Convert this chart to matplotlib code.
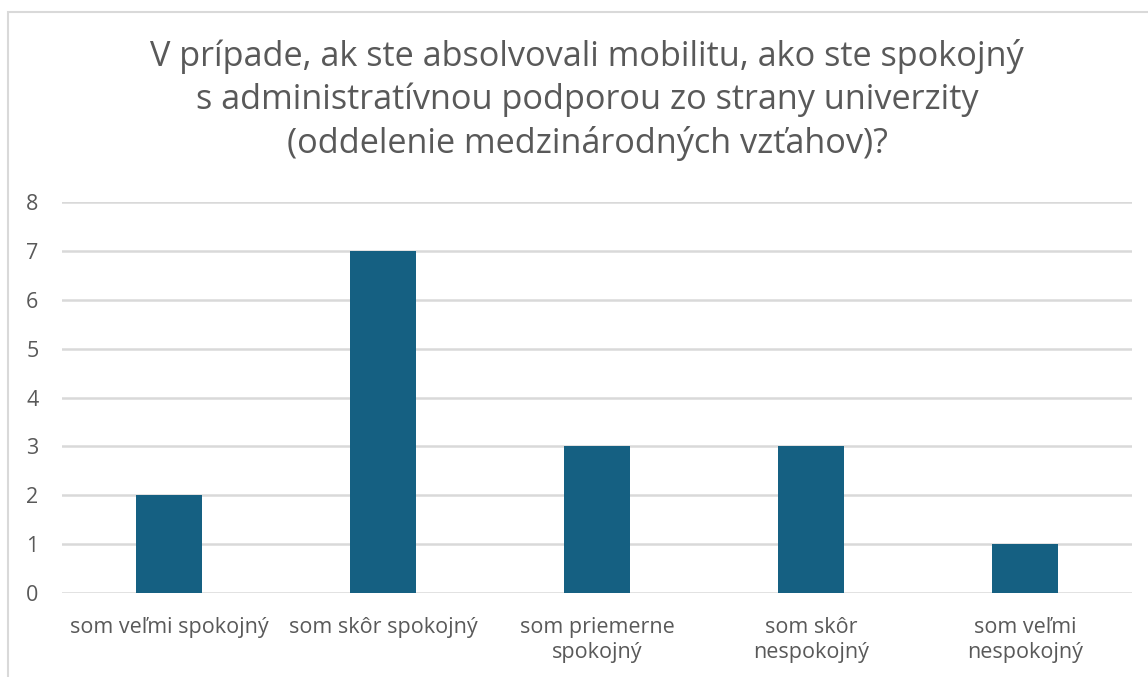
import matplotlib
matplotlib.use("Agg")
import matplotlib.pyplot as plt
from matplotlib.patches import Rectangle

# data
categories = ["som veľmi spokojný", "som skôr spokojný", "som priemerne\nspokojný",
              "som skôr\nnespokojný", "som veľmi\nnespokojný"]
counts = [2, 7, 3, 3, 1]
y_ticks = [0, 1, 2, 3, 4, 5, 6, 7, 8]
title = ("V prípade, ak ste absolvovali mobilitu, ako ste spokojný\n"
         "s administratívnou podporou zo strany univerzity\n"
         "(oddelenie medzinárodných vzťahov)?")

BAR_COLOR = "#156082"
TEXT_COLOR = "#595959"
GRID_COLOR = "#d9d9d9"

plt.rcParams['font.family'] = ['Open Sans', 'DejaVu Sans']

fig = plt.figure(figsize=(11.48, 6.77), dpi=100)
ax = fig.add_axes([62/1148, 1 - 593/677, (1132-62)/1148, (593-202)/677])

x = range(len(categories))
ax.bar(x, counts, width=0.313, color=BAR_COLOR, zorder=3)

ax.set_xlim(-0.5, len(categories) - 0.5)
ax.set_ylim(0, 8)
ax.set_yticks(y_ticks)
ax.set_xticks(list(x))
ax.set_xticklabels(categories, linespacing=1.3)
ax.tick_params(axis='both', length=0, labelsize=15.5, labelcolor=TEXT_COLOR)
ax.tick_params(axis='x', pad=17)
ax.tick_params(axis='y', pad=17)

ax.grid(axis='y', color=GRID_COLOR, linewidth=1.8, zorder=0)
for s in ax.spines.values():
    s.set_visible(False)

fig.text(587/1148, 1 - 100/677, title, ha='center', va='center', fontsize=24.7,
         color=TEXT_COLOR, linespacing=1.31)

# chart border (only top and left edges fall inside the picture)
fig.patches.append(Rectangle((8/1148, -0.1), 1.2, 1 - 12/677 + 0.1, transform=fig.transFigure,
                             fill=False, edgecolor=GRID_COLOR, linewidth=1.5, zorder=0))

fig.savefig("out.png", dpi=100)
